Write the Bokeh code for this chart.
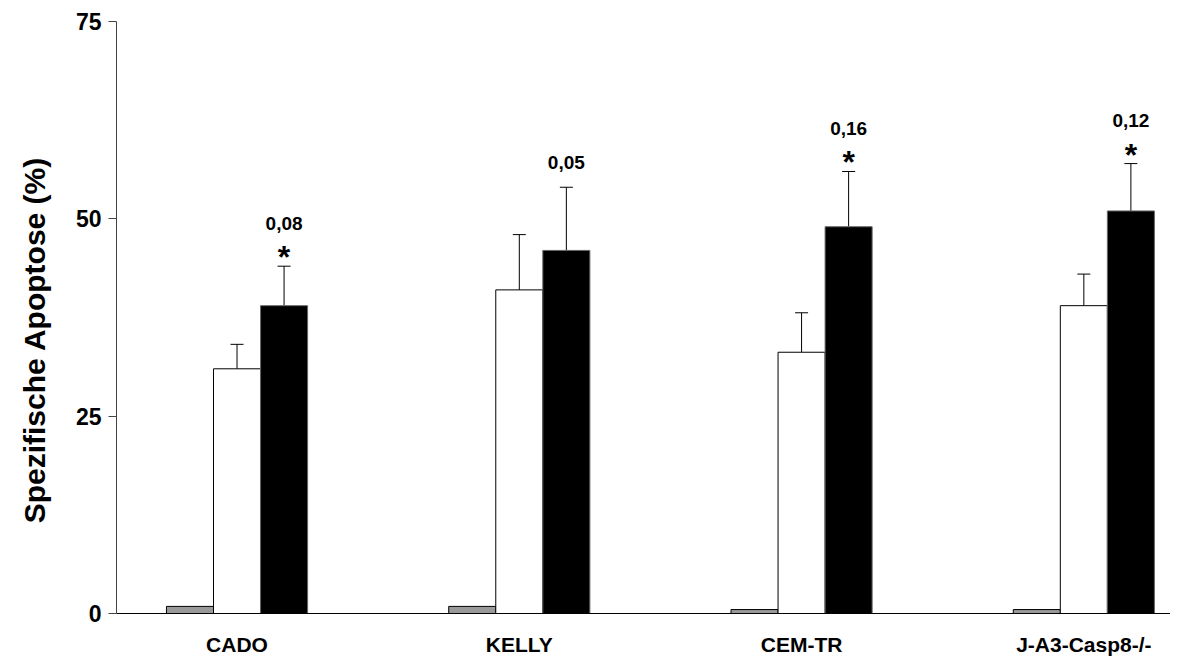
from bokeh.plotting import figure
from bokeh.models import ColumnDataSource, FixedTicker, Whisker, TeeHead, Range1d, Span
from bokeh.core.properties import value
from bokeh.embed import file_html
from bokeh.resources import INLINE

categories = ["CADO", "KELLY", "CEM-TR", "J-A3-Casp8-/-"]
control = [0.9, 0.9, 0.5, 0.5]
white_vals = [31.0, 41.0, 33.1, 39.0]
white_err = [3.1, 7.0, 5.0, 4.0]
black_vals = [39.0, 46.0, 49.0, 51.0]
black_err = [5.0, 8.0, 7.0, 6.0]
p_labels = ["0,08", "0,05", "0,16", "0,12"]
star = [True, False, True, True]
y_ticks = [0, 25, 50, 75]

FONT = "Liberation Sans"
bw = 1 / 6
idx = list(range(len(categories)))

p = figure(width=1170, height=658, output_backend="svg", toolbar_location=None,
           x_range=Range1d(-0.427, 3.307), y_range=Range1d(-5.70, 75),
           min_border_left=116, min_border_right=0, min_border_top=21, min_border_bottom=0)
p.outline_line_color = None
p.xgrid.visible = False
p.ygrid.visible = False
p.background_fill_color = "white"
p.xaxis.visible = False

src_g = ColumnDataSource(dict(x=[i - bw for i in idx], top=control))
src_w = ColumnDataSource(dict(x=[i for i in idx], top=white_vals,
                              up=[v + e for v, e in zip(white_vals, white_err)]))
src_b = ColumnDataSource(dict(x=[i + bw for i in idx], top=black_vals,
                              up=[v + e for v, e in zip(black_vals, black_err)]))

p.vbar(x="x", top="top", bottom=0, width=bw, source=src_g,
       fill_color="#999999", line_color="black", line_width=1)
p.vbar(x="x", top="top", bottom=0, width=bw, source=src_w,
       fill_color="white", line_color="black", line_width=1)
p.vbar(x="x", top="top", bottom=0, width=bw, source=src_b,
       fill_color="black", line_color="#666666", line_width=1)

for s in (src_w, src_b):
    w = Whisker(base="x", lower="top", upper="up", source=s, dimension="height",
                line_color="black", line_width=1,
                upper_head=TeeHead(size=13, line_color="black", line_width=1),
                lower_head=None)
    p.add_layout(w)

# baseline (x axis line at 0)
p.add_layout(Span(location=0, dimension="width", line_color="black", line_width=1))

# category labels under the baseline
p.text(x=idx, y=[0] * len(idx), text=categories, y_offset=31,
       text_font=value(FONT), text_font_style="bold", text_font_size="21px",
       text_align="center", text_baseline="middle", text_color="black")

# annotations
ann_x = [i + bw for i in idx]
ann_y = [v + e for v, e in zip(black_vals, black_err)]
txt_off = [-43 if s else -25 for s in star]
p.text(x=ann_x, y=ann_y, text=p_labels, y_offset=txt_off,
       text_font=value(FONT), text_font_style="bold", text_font_size="19px",
       text_align="center", text_baseline="middle", text_color="black")
st_x = [x for x, s in zip(ann_x, star) if s]
st_y = [y for y, s in zip(ann_y, star) if s]
p.text(x=st_x, y=st_y, text=["*"] * len(st_x), y_offset=-9,
       text_font=value(FONT), text_font_style="bold", text_font_size="32px",
       text_align="center", text_baseline="alphabetic", text_color="black")

# y axis
p.yaxis.ticker = FixedTicker(ticks=y_ticks)
p.yaxis.bounds = (min(y_ticks), max(y_ticks))
p.yaxis.minor_tick_line_color = None
p.yaxis.major_tick_in = 0
p.yaxis.major_tick_out = 8
p.yaxis.major_tick_line_color = "#444444"
p.yaxis.axis_line_color = "#444444"
p.yaxis.major_label_text_font = FONT
p.yaxis.major_label_text_font_style = "bold"
p.yaxis.major_label_text_font_size = "23px"
p.yaxis.major_label_text_color = "black"
p.yaxis.major_label_standoff = 7
p.yaxis.axis_label = "Spezifische Apoptose (%)"
p.yaxis.axis_label_text_font = FONT
p.yaxis.axis_label_text_font_style = "bold"
p.yaxis.axis_label_text_font_size = "30px"
p.yaxis.axis_label_text_color = "black"
p.yaxis.axis_label_standoff = 22

open("out.html", "w").write(file_html(p, INLINE))
